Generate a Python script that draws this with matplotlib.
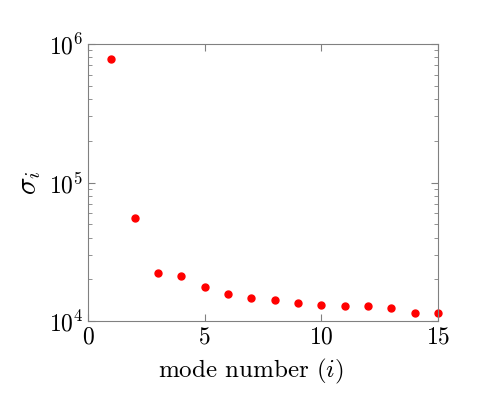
import matplotlib
matplotlib.use("Agg")
import matplotlib.pyplot as plt

plt.rcParams['font.family'] = 'serif'
plt.rcParams['font.serif'] = ['cmr10']
plt.rcParams['mathtext.fontset'] = 'cm'
plt.rcParams['axes.formatter.use_mathtext'] = True

modes = [1, 2, 3, 4, 5, 6, 7, 8, 9, 10, 11, 12, 13, 14, 15]
sigma = [7.8e5, 5.57e4, 2.22e4, 2.10e4, 1.77e4, 1.57e4, 1.47e4, 1.42e4,
         1.34e4, 1.31e4, 1.29e4, 1.29e4, 1.25e4, 1.14e4, 1.14e4]

fig = plt.figure(figsize=(4.84, 3.93), dpi=100)
ax = fig.add_axes([0.182, 0.183, 0.723, 0.705])
ax.semilogy(modes, sigma, 'o', color='red', markersize=5, clip_on=False)
ax.set_xlim(0, 15)
ax.set_ylim(1e4, 1e6)
ax.set_xticks([0, 5, 10, 15])
for s in ax.spines.values():
    s.set_color('#808080')
ax.tick_params(which='both', direction='in', top=True, right=True, color='#808080', labelsize=17)
ax.tick_params(which='major', length=5)
ax.tick_params(which='minor', length=3)
ax.set_xlabel(r'mode number $(i)$', fontsize=18)
ax.xaxis.set_label_coords(0.464, -0.13)
ax.set_ylabel(r'$\sigma_i$', fontsize=21)
fig.savefig('out.png', dpi=100)
